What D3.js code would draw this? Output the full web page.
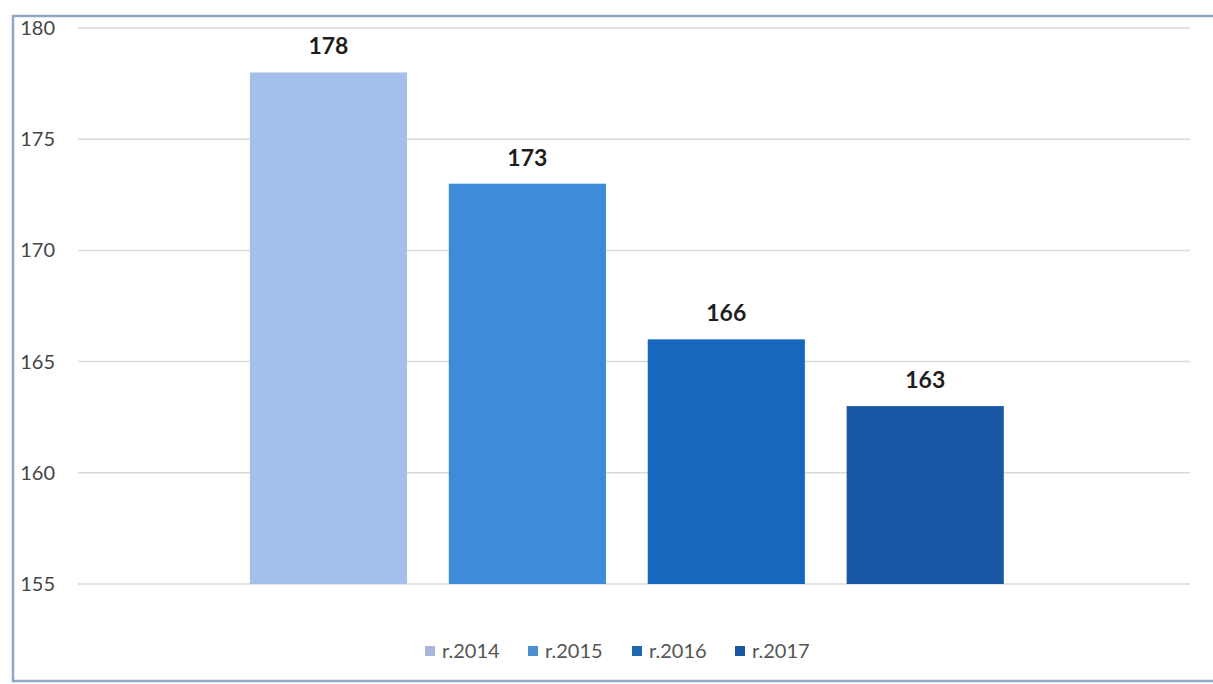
<!DOCTYPE html>
<html>
<head>
<meta charset="utf-8">
<script src="https://cdn.jsdelivr.net/npm/d3@7"></script>
<style>
  html, body { margin: 0; padding: 0; background: #ffffff; }
  svg { display: block; }
</style>
</head>
<body>
<div id="chart"></div>
<script>
// data
const years = ["r.2014", "r.2015", "r.2016", "r.2017"];
const values = [178, 173, 166, 163];
const yTicks = [155, 160, 165, 170, 175, 180];
const barColors = ["#a4bfe9", "#3d8cd8", "#1667be", "#1857a4"];
const legendColors = ["#a9b6dc", "#4d8fcf", "#1d68b0", "#1a56a0"];

const width = 1213;
const height = 684;
const plotLeft = 78;
const plotRight = 1190;
const fontFamily = "Lato, 'Open Sans', sans-serif";

const svg = d3
  .select("#chart")
  .append("svg")
  .attr("width", width)
  .attr("height", height);

// frame round the chart
svg
  .append("rect")
  .attr("x", 13)
  .attr("y", 16)
  .attr("width", 1260)
  .attr("height", 665)
  .style("fill", "none")
  .style("stroke", "#8ea9c6")
  .style("stroke-width", 2.5);

// scales
const y = d3.scaleLinear().domain([155, 180]).range([584, 28]);

const x = d3
  .scaleBand()
  .domain(years)
  .range([plotLeft, plotRight])
  .paddingInner(0.21)
  .paddingOuter(0.9)
  .align(0.48);

const color = d3.scaleOrdinal().domain(years).range(barColors);

// gridlines
svg
  .append("g")
  .selectAll("line")
  .data(yTicks)
  .enter()
  .append("line")
  .attr("x1", plotLeft)
  .attr("x2", plotRight)
  .attr("y1", d => y(d))
  .attr("y2", d => y(d))
  .style("stroke", "#dadada")
  .style("stroke-width", 1.5);

// y axis labels
const yAxis = svg
  .append("g")
  .attr("transform", "translate(55,0)")
  .call(d3.axisLeft(y).tickValues(yTicks).tickSize(0).tickPadding(0));
yAxis.select(".domain").remove();
yAxis
  .selectAll("text")
  .style("font-family", fontFamily)
  .style("font-size", "20px")
  .style("fill", "#454545");

// bars
svg
  .append("g")
  .selectAll("rect")
  .data(values)
  .enter()
  .append("rect")
  .attr("x", (d, i) => x(years[i]))
  .attr("y", d => y(d))
  .attr("width", x.bandwidth())
  .attr("height", d => y(155) - y(d))
  .attr("fill", (d, i) => color(years[i]));

// value labels
svg
  .append("g")
  .selectAll("text")
  .data(values)
  .enter()
  .append("text")
  .attr("x", (d, i) => x(years[i]) + x.bandwidth() / 2)
  .attr("y", d => y(d) - 18)
  .attr("text-anchor", "middle")
  .style("font-family", fontFamily)
  .style("font-size", "23px")
  .style("font-weight", "bold")
  .style("fill", "#1e1e1e")
  .text(d => d);

// legend
const legendX = [425, 528, 632, 735];
const legend = svg
  .append("g")
  .selectAll("g")
  .data(years)
  .enter()
  .append("g")
  .attr("transform", (d, i) => "translate(" + legendX[i] + ",651)");

legend
  .append("rect")
  .attr("x", 0)
  .attr("y", -5)
  .attr("width", 10)
  .attr("height", 10)
  .attr("fill", (d, i) => legendColors[i]);

legend
  .append("text")
  .attr("x", 17)
  .attr("y", 7)
  .style("font-family", fontFamily)
  .style("font-size", "20px")
  .style("fill", "#555555")
  .text(d => d);
</script>
</body>
</html>
